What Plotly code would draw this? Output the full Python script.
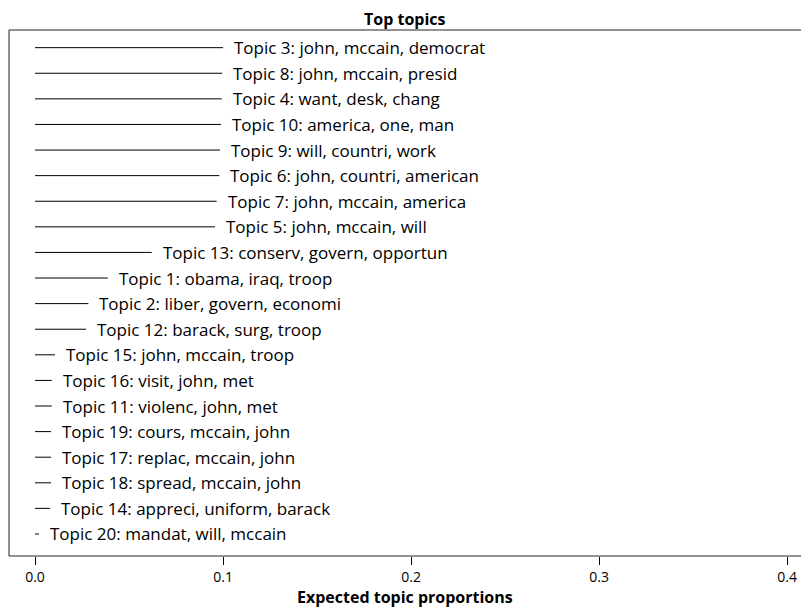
import plotly.graph_objects as go

topics = ["Topic 3: john, mccain, democrat", "Topic 8: john, mccain, presid",
          "Topic 4: want, desk, chang", "Topic 10: america, one, man",
          "Topic 9: will, countri, work", "Topic 6: john, countri, american",
          "Topic 7: john, mccain, america", "Topic 5: john, mccain, will",
          "Topic 13: conserv, govern, opportun", "Topic 1: obama, iraq, troop",
          "Topic 2: liber, govern, economi", "Topic 12: barack, surg, troop",
          "Topic 15: john, mccain, troop", "Topic 16: visit, john, met",
          "Topic 11: violenc, john, met", "Topic 19: cours, mccain, john",
          "Topic 17: replac, mccain, john", "Topic 18: spread, mccain, john",
          "Topic 14: appreci, uniform, barack", "Topic 20: mandat, will, mccain"]
proportions = [0.1000, 0.0996, 0.0993, 0.0989, 0.0984, 0.0980, 0.0966, 0.0957,
               0.0621, 0.0387, 0.0284, 0.0271, 0.0106, 0.0089, 0.0089, 0.0085,
               0.0085, 0.0085, 0.0080, 0.0021]
tick_vals = [0.0, 0.1, 0.2, 0.3, 0.4]
tick_text = ["0.0", "0.1", "0.2", "0.3", "0.4"]

FONT = "Open Sans"
W, H = 793, 600   # page body adds an 8px margin around the figure
rows = list(range(1, len(topics) + 1))

xs, ys = [], []
for r, v in zip(rows, proportions):
    xs += [0, v, None]
    ys += [r, r, None]

fig = go.Figure()
fig.add_trace(go.Scatter(x=xs, y=ys, mode="lines",
                         line=dict(color="black", width=1), hoverinfo="skip",
                         showlegend=False))

for r, v, t in zip(rows, proportions, topics):
    fig.add_annotation(x=v, y=r, text=t, showarrow=False, xanchor="left",
                       yanchor="middle", xshift=9,
                       font=dict(family=FONT, size=17, color="black"))

# box (left, top, bottom) -- right side lies beyond the visible window
for x0, y0, x1, y1 in [(0, 0, 0, 1), (0, 1, 1, 1), (0, 0, 1, 0)]:
    fig.add_shape(type="line", xref="paper", yref="paper", x0=x0, y0=y0,
                  x1=x1, y1=y1, line=dict(color="#222222", width=1))

fig.add_annotation(text="<b>Top topics</b>", xref="paper", yref="paper",
                   x=0.5, y=1, yshift=11, yanchor="middle", showarrow=False,
                   font=dict(family=FONT, size=16, color="black"))
fig.add_annotation(text="<b>Expected topic proportions</b>", xref="paper",
                   yref="paper", x=0.5, y=0, yshift=-41, yanchor="middle",
                   showarrow=False,
                   font=dict(family=FONT, size=16, color="black"))

fig.update_layout(
    width=W, height=H,
    margin=dict(l=1, r=0, t=22, b=52),
    plot_bgcolor="white", paper_bgcolor="white",
    xaxis=dict(range=[-0.01383, 0.40734], tickvals=tick_vals, ticktext=tick_text,
               ticks="outside", ticklen=8, tickcolor="black", showgrid=False,
               zeroline=False, showline=False, ticklabelstandoff=0,
               tickfont=dict(family=FONT, size=14, color="black")),
    yaxis=dict(range=[20.86, 0.31], showticklabels=False, showgrid=False,
               zeroline=False, showline=False, ticks=""),
)

fig.write_html("out.html")
